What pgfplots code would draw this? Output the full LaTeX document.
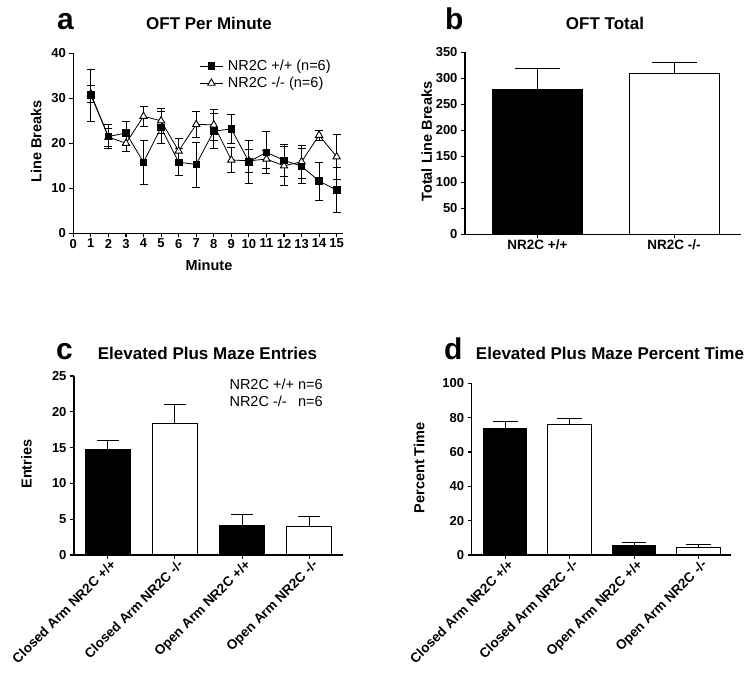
\documentclass[border=0pt]{standalone}
\usepackage{fontspec}
\setmainfont{Liberation Sans}
\usepackage{pgfplots}
\pgfplotsset{compat=1.18}
\usepackage{pgfplotstable}

\pgfplotstableread{
x y e
1 30.7 5.8
2 21.5 2.6
3 22.3 2.6
4 15.8 4.9
5 23.5 3.6
6 15.8 3.0
7 15.3 5.0
8 22.7 3.9
9 23.2 3.2
10 15.9 4.7
11 18.0 4.6
12 16.2 3.5
13 14.9 3.9
14 11.6 4.2
15 9.6 5.0
}\wt

\pgfplotstableread{
x y e
1 31.0 1.8
2 21.4 2.0
3 20.0 1.7
4 26.0 2.3
5 25.0 2.8
6 18.3 2.7
7 24.2 2.9
8 24.1 3.5
9 16.3 2.7
10 16.1 2.6
11 16.5 2.0
12 15.0 4.3
13 15.9 3.7
14 21.8 1.1
15 17.0 5.0
}\ko

\newcommand{\fs}[1]{\fontsize{#1pt}{#1pt}\selectfont}

\pgfplotsset{
  gp/.style={
    scale only axis,
    axis x line*=bottom, axis y line*=left,
    axis line style={-, line width=1.1pt},
    tick align=outside,
    major tick length=4pt,
    tick style={black, line width=1.1pt},
    /pgf/number format/assume math mode=true,
    tick label style={font=\bfseries\fs{13}},
    label style={font=\bfseries\fs{14.5}},
    ymin=0,
    clip=false,
  },
  bars/.style={
    ybar, bar shift=0pt, draw=black, line width=1.1pt,
    /pgfplots/error bars/y dir=plus,
    /pgfplots/error bars/y explicit,
    /pgfplots/error bars/error bar style={line width=1.1pt},
    /pgfplots/error bars/error mark options={rotate=90, line width=1.1pt, mark size=#1},
  },
}

\begin{document}
\begin{tikzpicture}
\path[use as bounding box] (0,0) rectangle (748pt,-674pt);

% ---------- panel a ----------
\begin{axis}[gp,
  at={(73.3pt,-233.3pt)}, anchor=south west,
  width=269.7pt, height=180pt,
  xmin=0, xmax=15.36, ymax=40,
  xtick={0,...,15}, ytick={0,10,20,30,40},
  xlabel={Minute}, ylabel={Line Breaks},
  xlabel style={at={(axis description cs:0.503,-0.13)}, anchor=north},
  ylabel style={at={(axis description cs:-0.138,0.51)}, anchor=center},
  xticklabel style={inner sep=1.5pt},
  reverse legend,
  legend style={draw=none, fill=none, at={(0.465,0.98)}, anchor=north west,
    font=\fs{14.5}, row sep=1pt, inner sep=1pt},
  legend cell align=left,
  legend image code/.code={\draw[mark repeat=2,mark phase=2,#1] plot coordinates {(0cm,0cm)(0.39cm,0cm)(0.78cm,0cm)};},
]
\addplot[black, line width=0.8pt, mark=triangle*, mark size=4.2pt,
  mark options={fill=white, line width=0.9pt},
  error bars/.cd, y dir=both, y explicit,
  error bar style={line width=0.8pt},
  error mark options={rotate=90, line width=0.8pt, mark size=4pt}]
  table[x=x, y=y, y error=e] {\ko};
\addlegendentry{\hspace{3pt}NR2C -/- (n=6)}
\addplot[black, line width=0.8pt, mark=square*, mark size=3.3pt,
  error bars/.cd, y dir=both, y explicit,
  error bar style={line width=0.8pt},
  error mark options={rotate=90, line width=0.8pt, mark size=4pt}]
  table[x=x, y=y, y error=e] {\wt};
\addlegendentry{\hspace{3pt}NR2C +/+ (n=6)}
\end{axis}
\node[anchor=base, font=\bfseries\fs{17}] at (209pt,-29.3pt) {OFT Per Minute};
\node[anchor=base west, inner sep=0pt, font=\bfseries\fs{30}] at (57pt,-29.3pt) {a};

% ---------- panel b ----------
\begin{axis}[gp,
  at={(465pt,-234.3pt)}, anchor=south west,
  width=276pt, height=182pt,
  xmin=0.47, xmax=2.49, ymax=350,
  ytick={0,50,...,350},
  xtick={1,2}, xticklabels={NR2C +/+, NR2C -/-},
  xticklabel style={font=\bfseries\fs{13.5}, inner sep=1.5pt},
  ylabel={Total Line Breaks},
  ylabel style={at={(axis description cs:-0.139,0.509)}, anchor=center},
]
\addplot[bars=22.5pt, bar width=90pt, fill=black] coordinates {(1,277.5) +- (0,41.5)};
\addplot[bars=22.5pt, bar width=90pt, fill=white] coordinates {(2,310) +- (0,21)};
\end{axis}
\node[anchor=base, font=\bfseries\fs{17}] at (605pt,-29.3pt) {OFT Total};
\node[anchor=base west, inner sep=0pt, font=\bfseries\fs{30}] at (445pt,-29.3pt) {b};

% ---------- panel c ----------
\begin{axis}[gp,
  at={(74pt,-555pt)}, anchor=south west,
  width=269pt, height=179pt,
  xmin=0.5, xmax=4.5, ymax=25,
  ytick={0,5,...,25},
  xtick={1,2,3,4},
  xticklabels={Closed Arm NR2C +/+, Closed Arm NR2C -/-, Open Arm NR2C +/+, Open Arm NR2C -/-},
  xticklabel style={font=\bfseries\fs{13.5}, rotate=45, anchor=north east, inner sep=1pt, xshift=3pt},
  ylabel={Entries},
  ylabel style={at={(axis description cs:-0.177,0.508)}, anchor=center},
]
\addplot[bars=11pt, bar width=45pt, fill=black] coordinates {(1,14.7) +- (0,1.35)};
\addplot[bars=11pt, bar width=45pt, fill=white] coordinates {(2,18.4) +- (0,2.6)};
\addplot[bars=11pt, bar width=45pt, fill=black] coordinates {(3,4.05) +- (0,1.65)};
\addplot[bars=11pt, bar width=45pt, fill=white] coordinates {(4,4.0) +- (0,1.4)};
\node[anchor=north east, inner sep=0pt, font=\fs{14.5}] at (rel axis cs:0.925,0.985)
  {\begin{tabular}{@{}l@{\hspace{4pt}}l@{}}NR2C +/+ & n=6\\[2pt] NR2C -/- & n=6\end{tabular}};
\end{axis}
\node[anchor=base, font=\bfseries\fs{17}] at (207.5pt,-359.3pt) {Elevated Plus Maze Entries};
\node[anchor=base west, inner sep=0pt, font=\bfseries\fs{30}] at (56pt,-359.3pt) {c};

% ---------- panel d ----------
\begin{axis}[gp,
  at={(471.7pt,-555pt)}, anchor=south west,
  width=259pt, height=171.7pt,
  xmin=0.48, xmax=4.5, ymax=100,
  ytick={0,20,...,100},
  xtick={1,2,3,4},
  xticklabels={Closed Arm NR2C +/+, Closed Arm NR2C -/-, Open Arm NR2C +/+, Open Arm NR2C -/-},
  xticklabel style={font=\bfseries\fs{13.5}, rotate=45, anchor=north east, inner sep=1pt, xshift=3pt},
  ylabel={Percent Time},
  ylabel style={at={(axis description cs:-0.203,0.507)}, anchor=center},
]
\addplot[bars=12.3pt, bar width=43.4pt, fill=black] coordinates {(1,73.8) +- (0,3.8)};
\addplot[bars=12.3pt, bar width=43.4pt, fill=white] coordinates {(2,75.9) +- (0,3.7)};
\addplot[bars=12.3pt, bar width=43.4pt, fill=black] coordinates {(3,5.4) +- (0,2.0)};
\addplot[bars=12.3pt, bar width=43.4pt, fill=white] coordinates {(4,4.5) +- (0,1.5)};
\end{axis}
\node[anchor=base, font=\bfseries\fs{17}] at (610pt,-359.3pt) {Elevated Plus Maze Percent Time};
\node[anchor=base west, inner sep=0pt, font=\bfseries\fs{30}] at (444pt,-359.3pt) {d};

\end{tikzpicture}
\end{document}
